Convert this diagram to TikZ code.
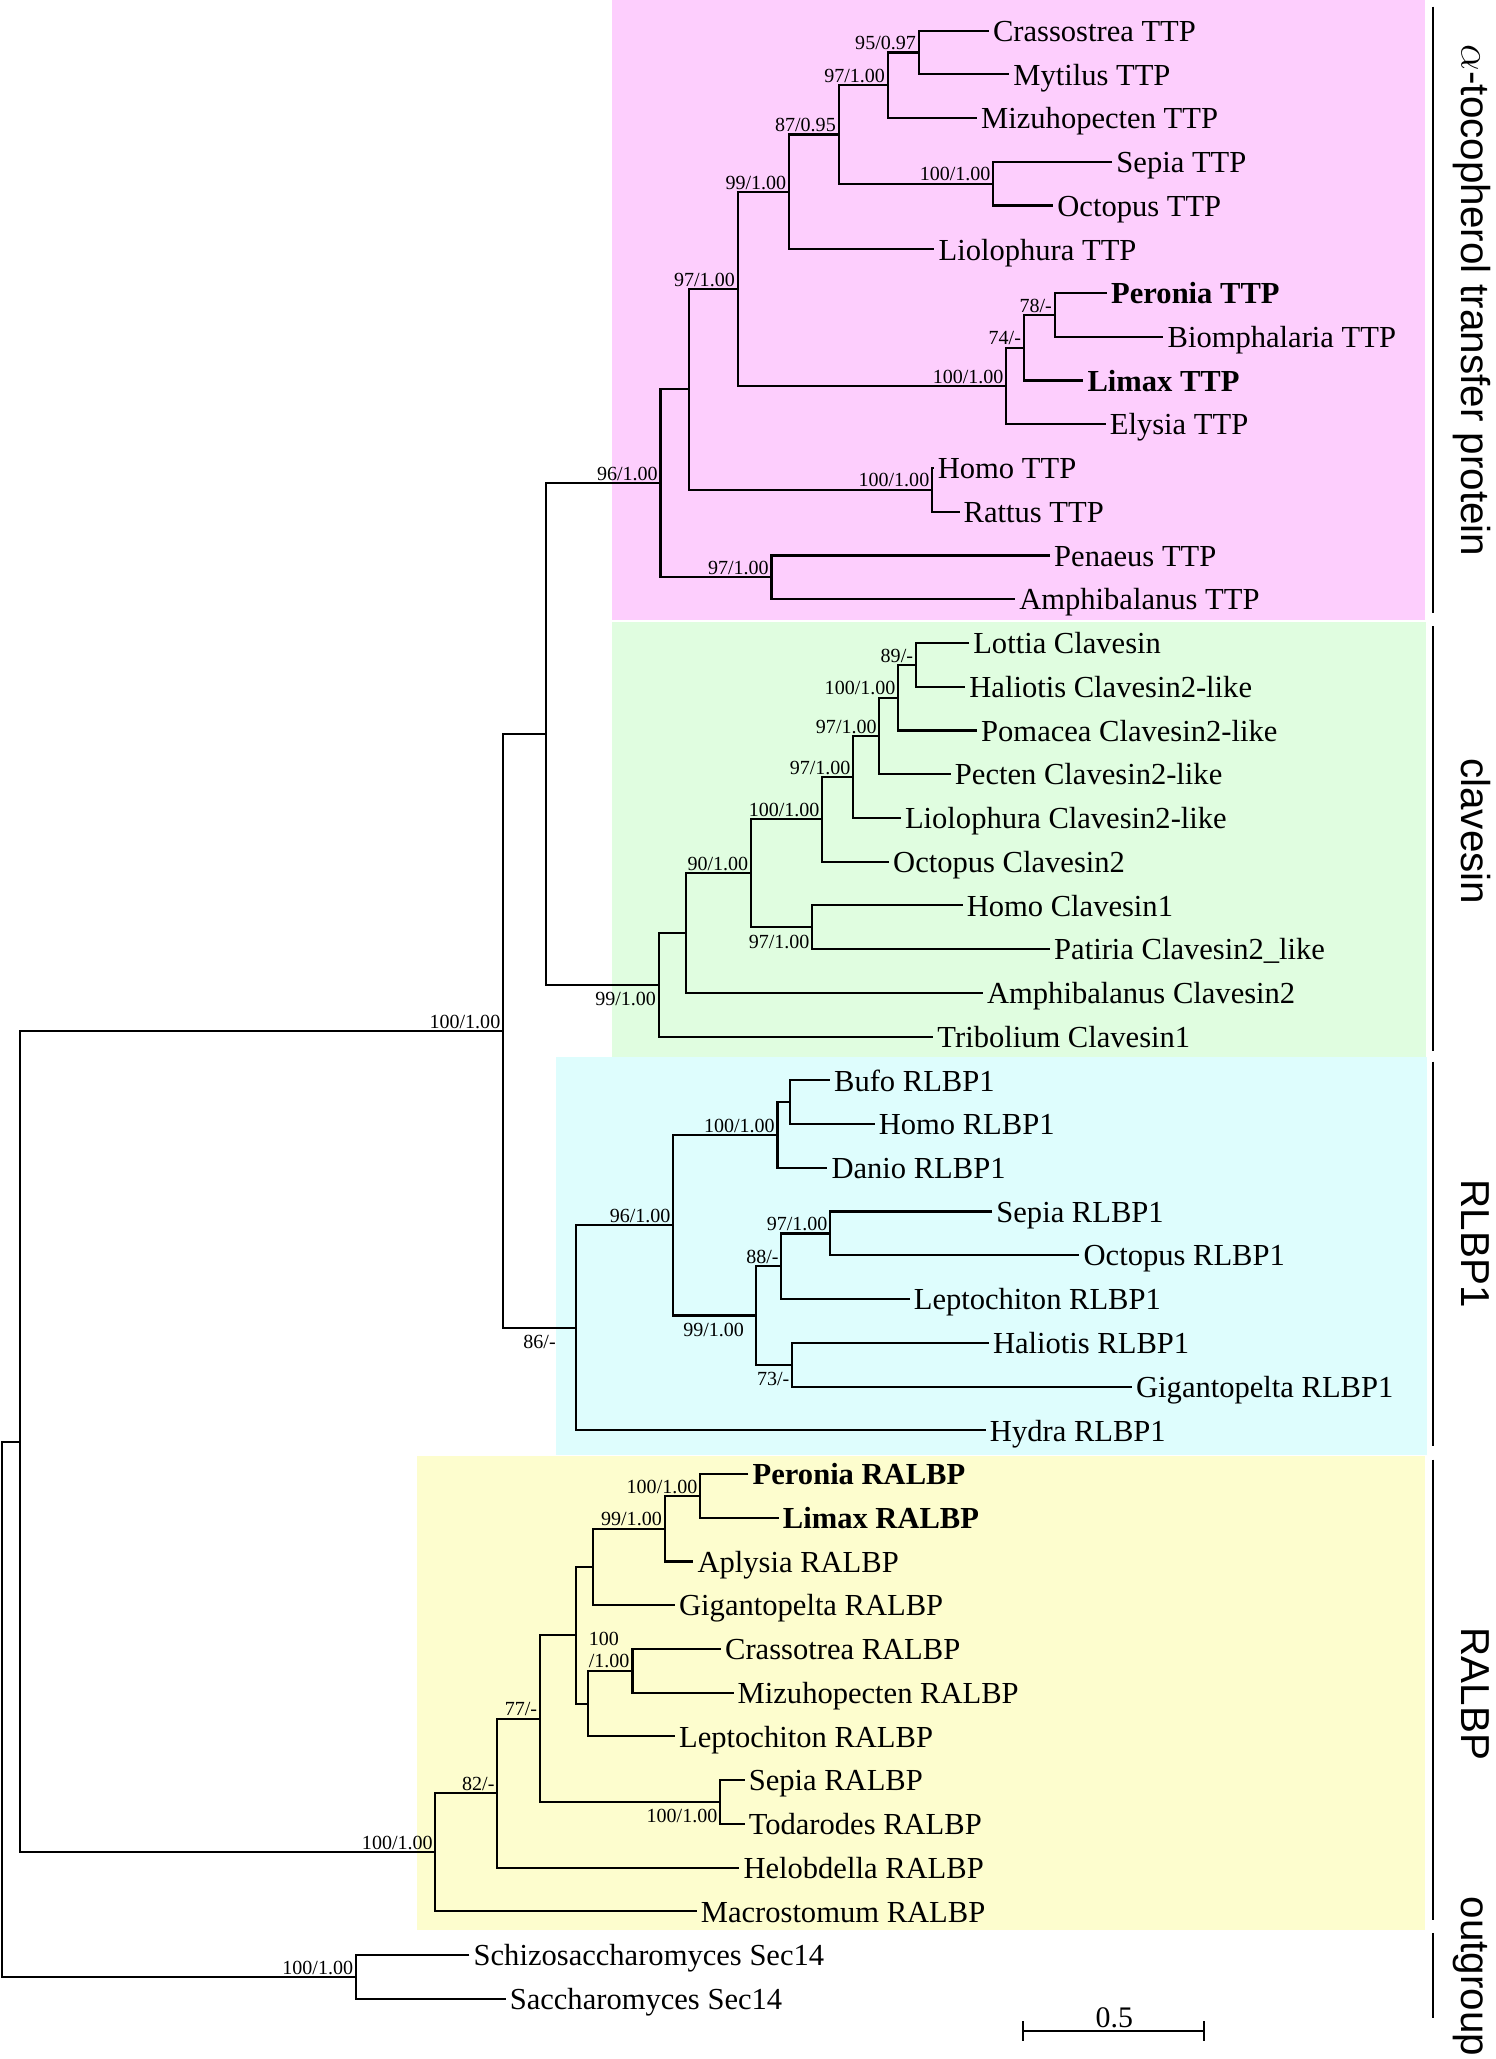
\documentclass[tikz,border=0pt]{standalone}
\usepackage{fontspec}
\setmainfont{Liberation Serif}
\newfontfamily\cladefont{Liberation Sans}
\usepackage{tikz}
\usetikzlibrary{positioning, calc}

\definecolor{ttpcol}{RGB}{253,206,253}
\definecolor{clavcol}{RGB}{224,253,224}
\definecolor{rlbpcol}{RGB}{222,253,253}
\definecolor{ralbpcol}{RGB}{253,253,206}

\begin{document}
\begin{tikzpicture}[x=0.013134cm, y=-0.013134cm,
    leaf/.style={anchor=west, inner xsep=1pt, inner ysep=0pt, text height=6.1pt, text depth=0pt, font=\fontsize{8.7}{10}\selectfont},
    bleaf/.style={leaf, font=\fontsize{8.7}{10}\selectfont\bfseries},
    supstyle/.style={inner sep=0.6pt, text height=4pt, text depth=0pt, font=\fontsize{5.7}{6.4}\selectfont},
    supabove/.style={supstyle, anchor=south east},
    supbelow/.style={supstyle, anchor=north east, yshift=-1.1pt},
    branch/.style={line width=0.6pt},
    bracket/.style={line width=0.5pt},
    cladename/.style={rotate=-90, anchor=base, inner sep=0pt, font=\cladefont\fontsize{11.5}{13}\selectfont}]

	\useasboundingbox (0,0) rectangle (1139,1568);

	\fill[ttpcol] (466,0) rectangle (1085.2,472);
	\fill[clavcol] (466,473.5) rectangle (1085.6,804.6);
	\fill[rlbpcol] (423.3,804.6) rectangle (1087,1107.8);
	\fill[ralbpcol] (317.5,1108.6) rectangle (1085,1470);

	\node[leaf] (crassT) at (753, 23.3) {Crassostrea TTP};
	\node[leaf] (mytilT) at (768.5, 56.6) {Mytilus TTP};
	\node[leaf] (mizuT) at (744, 89.9) {Mizuhopecten TTP};
	\node[leaf] (sepiaT) at (847, 123.2) {Sepia TTP};
	\node[leaf] (octoT) at (802, 156.5) {Octopus TTP};
	\node[leaf] (lioloT) at (711.6, 189.9) {Liolophura TTP};
	\node[bleaf] (peronT) at (843, 223.2) {Peronia TTP};
	\node[leaf] (biomT) at (886, 256.5) {Biomphalaria TTP};
	\node[bleaf] (limaxT) at (825, 289.8) {Limax TTP};
	\node[leaf] (elysT) at (842, 323.1) {Elysia TTP};
	\node[leaf] (homoT) at (711, 356.4) {Homo TTP};
	\node[leaf] (rattT) at (730.7, 389.7) {Rattus TTP};
	\node[leaf] (penT) at (799.6, 423.0) {Penaeus TTP};
	\node[leaf] (amphT) at (773, 456.3) {Amphibalanus TTP};

	\node[leaf] (lottC) at (738, 489.6) {Lottia Clavesin};
	\node[leaf] (haliC) at (735, 522.9) {Haliotis Clavesin2-like};
	\node[leaf] (pomaC) at (744, 556.3) {Pomacea Clavesin2-like};
	\node[leaf] (pectC) at (724, 589.6) {Pecten Clavesin2-like};
	\node[leaf] (lioloC) at (686, 622.9) {Liolophura Clavesin2-like};
	\node[leaf] (octoC) at (677, 656.2) {Octopus Clavesin2};
	\node[leaf] (homoC) at (733, 689.5) {Homo Clavesin1};
	\node[leaf] (patC) at (799.6, 722.8) {Patiria Clavesin2\_like};
	\node[leaf] (amphC) at (748.5, 756.1) {Amphibalanus Clavesin2};
	\node[leaf] (tribC) at (710.7, 789.4) {Tribolium Clavesin1};

	\node[leaf] (bufoR) at (632, 822.7) {Bufo RLBP1};
	\node[leaf] (homoR) at (666, 856.0) {Homo RLBP1};
	\node[leaf] (danioR) at (630, 889.3) {Danio RLBP1};
	\node[leaf] (sepiaR) at (755.6, 922.6) {Sepia RLBP1};
	\node[leaf] (octoR) at (822, 955.9) {Octopus RLBP1};
	\node[leaf] (leptR) at (692.7, 989.3) {Leptochiton RLBP1};
	\node[leaf] (haliR) at (753, 1022.6) {Haliotis RLBP1};
	\node[leaf] (gigaR) at (862, 1055.9) {Gigantopelta RLBP1};
	\node[leaf] (hydraR) at (750.7, 1089.2) {Hydra RLBP1};

	\node[bleaf] (peronA) at (570, 1122.5) {Peronia RALBP};
	\node[bleaf] (limaxA) at (593, 1155.8) {Limax RALBP};
	\node[leaf] (aplyA) at (528, 1189.1) {Aplysia RALBP};
	\node[leaf] (gigaA) at (514, 1222.4) {Gigantopelta RALBP};
	\node[leaf] (crassA) at (549, 1255.7) {Crassotrea RALBP};
	\node[leaf] (mizuA) at (558.6, 1289.0) {Mizuhopecten RALBP};
	\node[leaf] (leptA) at (514, 1322.3) {Leptochiton RALBP};
	\node[leaf] (sepiaA) at (567, 1355.6) {Sepia RALBP};
	\node[leaf] (todaA) at (567, 1389.0) {Todarodes RALBP};
	\node[leaf] (heloA) at (563, 1422.3) {Helobdella RALBP};
	\node[leaf] (macroA) at (530.5, 1455.6) {Macrostomum RALBP};

	\node[leaf] (schizo) at (357.5, 1488.9) {Schizosaccharomyces Sec14};
	\node[leaf] (sacch) at (385, 1522.2) {Saccharomyces Sec14};

	\coordinate (t1) at (699.6, 40.0);
	\coordinate (t2) at (676, 64.9);
	\coordinate (t3) at (756.4, 139.9);
	\coordinate (t4) at (638.6, 102.4);
	\coordinate (t5) at (600.8, 146.1);
	\coordinate (t6) at (803.2, 239.9);
	\coordinate (t7) at (779.6, 264.8);
	\coordinate (t8) at (766.3, 294.0);
	\coordinate (t9) at (561.7, 220.0);
	\coordinate (t10) at (709.8, 373.0);
	\coordinate (t11) at (524.8, 296.5);
	\coordinate (t12) at (587.5, 439.7);
	\coordinate (t13) at (503, 368.1);

	\coordinate (c1) at (697.4, 506.3);
	\coordinate (c2) at (684, 531.3);
	\coordinate (c3) at (669.7, 560.5);
	\coordinate (c4) at (649.8, 591.7);
	\coordinate (c5) at (626.2, 624.0);
	\coordinate (c6) at (618.6, 706.2);
	\coordinate (c7) at (571.9, 665.1);
	\coordinate (c8) at (522.5, 710.6);
	\coordinate (c9) at (501.7, 750.0);
	\coordinate (tc) at (416, 559.1);

	\coordinate (r1) at (601.8, 839.4);
	\coordinate (r2) at (592.1, 864.4);
	\coordinate (r3) at (632.3, 939.3);
	\coordinate (r4) at (595, 964.3);
	\coordinate (r5) at (603.2, 1039.3);
	\coordinate (r6) at (575.6, 1001.8);
	\coordinate (r7) at (512.7, 933.1);
	\coordinate (r8) at (438.7, 1011.2);
	\coordinate (tcr) at (383.1, 785.2);

	\coordinate (p1) at (533.2, 1139.2);
	\coordinate (p2) at (506.1, 1164.2);
	\coordinate (p3) at (451.9, 1193.3);
	\coordinate (p4) at (481.7, 1272.4);
	\coordinate (p5) at (447.6, 1297.4);
	\coordinate (p6) at (438.3, 1245.4);
	\coordinate (p7) at (548.4, 1372.3);
	\coordinate (p8) at (411.2, 1308.9);
	\coordinate (p9) at (378.7, 1365.6);
	\coordinate (p10) at (331.6, 1410.6);
	\coordinate (tcra) at (15, 1097.9);

	\coordinate (o1) at (271, 1505.6);
	\coordinate (root) at (1.5, 1301.8);

	\draw[branch] (crassT.west) -| (t1) |- (mytilT.west);
	\draw[branch] (t1) -| (t2) |- (mizuT.west);
	\draw[branch] (sepiaT.west) -| (t3) |- (octoT.west);
	\draw[branch] (t2) -| (t4) |- (t3);
	\draw[branch] (t4) -| (t5) |- (lioloT.west);
	\draw[branch] (peronT.west) -| (t6) |- (biomT.west);
	\draw[branch] (t6) -| (t7) |- (limaxT.west);
	\draw[branch] (t7) -| (t8) |- (elysT.west);
	\draw[branch] (t5) -| (t9) |- (t8);
	\draw[branch] (homoT.west) -| (t10) |- (rattT.west);
	\draw[branch] (t9) -| (t11) |- (t10);
	\draw[branch] (penT.west) -| (t12) |- (amphT.west);
	\draw[branch] (t11) -| (t13) |- (t12);

	\draw[branch] (lottC.west) -| (c1) |- (haliC.west);
	\draw[branch] (c1) -| (c2) |- (pomaC.west);
	\draw[branch] (c2) -| (c3) |- (pectC.west);
	\draw[branch] (c3) -| (c4) |- (lioloC.west);
	\draw[branch] (c4) -| (c5) |- (octoC.west);
	\draw[branch] (homoC.west) -| (c6) |- (patC.west);
	\draw[branch] (c5) -| (c7) |- (c6);
	\draw[branch] (c7) -| (c8) |- (amphC.west);
	\draw[branch] (c8) -| (c9) |- (tribC.west);
	\draw[branch] (t13) -| (tc) |- (c9);

	\draw[branch] (bufoR.west) -| (r1) |- (homoR.west);
	\draw[branch] (r1) -| (r2) |- (danioR.west);
	\draw[branch] (sepiaR.west) -| (r3) |- (octoR.west);
	\draw[branch] (r3) -| (r4) |- (leptR.west);
	\draw[branch] (haliR.west) -| (r5) |- (gigaR.west);
	\draw[branch] (r4) -| (r6) |- (r5);
	\draw[branch] (r2) -| (r7) |- (r6);
	\draw[branch] (r7) -| (r8) |- (hydraR.west);
	\draw[branch] (tc) -| (tcr) |- (r8);

	\draw[branch] (peronA.west) -| (p1) |- (limaxA.west);
	\draw[branch] (p1) -| (p2) |- (aplyA.west);
	\draw[branch] (p2) -| (p3) |- (gigaA.west);
	\draw[branch] (crassA.west) -| (p4) |- (mizuA.west);
	\draw[branch] (p4) -| (p5) |- (leptA.west);
	\draw[branch] (p3) -| (p6) |- (p5);
	\draw[branch] (sepiaA.west) -| (p7) |- (todaA.west);
	\draw[branch] (p6) -| (p8) |- (p7);
	\draw[branch] (p8) -| (p9) |- (heloA.west);
	\draw[branch] (p9) -| (p10) |- (macroA.west);
	\draw[branch] (tcr) -| (tcra) |- (p10);

	\draw[branch] (schizo.west) -| (o1) |- (sacch.west);
	\draw[branch] (tcra) -| (root) |- (o1);

	\node[supabove] (st1) at (t1) {95/0.97};
	\node[supabove] (st2) at (t2) {97/1.00};
	\node[supabove] (st3) at (t3) {100/1.00};
	\node[supabove] (st4) at (t4) {87/0.95};
	\node[supabove] (st5) at (t5) {99/1.00};
	\node[supabove] (st6) at (t6) {78/-};
	\node[supabove] (st7) at (t7) {74/-};
	\node[supabove] (st8) at (t8) {100/1.00};
	\node[supabove] (st9) at (t9) {97/1.00};
	\node[supabove] (st10) at (t10) {100/1.00};
	\node[supabove] (st12) at (t12) {97/1.00};
	\node[supabove] (st13) at (t13) {96/1.00};

	\node[supabove] (sc1) at (c1) {89/-};
	\node[supabove] (sc2) at (c2) {100/1.00};
	\node[supabove] (sc3) at (c3) {97/1.00};
	\node[supabove] (sc4) at (c4) {97/1.00};
	\node[supabove] (sc5) at (c5) {100/1.00};
	\node[supbelow] (sc6) at (c6) {97/1.00};
	\node[supabove] (sc7) at (c7) {90/1.00};
	\node[supbelow] (sc9) at (c9) {99/1.00};

	\node[supabove] (sr2) at (r2) {100/1.00};
	\node[supabove] (sr3) at (r3) {97/1.00};
	\node[supabove] (sr4) at (r4) {88/-};
	\node[supbelow] (sr5) at (r5) {73/-};
	\node[supbelow, xshift=-2.6pt] (sr6) at (r6) {99/1.00};
	\node[supabove] (sr7) at (r7) {96/1.00};
	\node[supbelow, xshift=-5pt] (sr8) at (r8) {86/-};
	\node[supabove] (stcr) at (tcr) {100/1.00};

	\node[supabove] (sp1) at (p1) {100/1.00};
	\node[supabove] (sp2) at (p2) {99/1.00};
	\node[inner sep=0.6pt, anchor=south west, align=left, xshift=-0.5pt, font=\fontsize{5.7}{6.4}\selectfont] (sp4) at (p5 |- p4) {100\\/1.00};
	\node[supbelow] (sp7) at (p7) {100/1.00};
	\node[supabove] (sp8) at (p8) {77/-};
	\node[supabove] (sp9) at (p9) {82/-};
	\node[supabove] (sp10) at (p10) {100/1.00};
	\node[supabove] (so1) at (o1) {100/1.00};

	\draw[bracket] (1091,5) -- (1091,467);
	\draw[bracket] (1091,477) -- (1091,800.7);
	\draw[bracket] (1091,808.4) -- (1091,1101.5);
	\draw[bracket] (1091,1111.6) -- (1091,1461.9);
	\draw[bracket] (1091,1472) -- (1091,1536.8);

	\node[cladename] (ttpname) at (1113,229) {$\alpha$-tocopherol transfer protein};
	\node[cladename] (clavname) at (1113,633) {clavesin};
	\node[cladename] (rlbpname) at (1113,947) {RLBP1};
	\node[cladename] (ralbpname) at (1113,1290) {RALBP};
	\node[cladename] (outname) at (1113,1505) {outgroup};

	\coordinate (sbl) at (778.8,1546.9);
	\coordinate (sbr) at (916.9,1546.9);
	\draw[branch] (sbl) -- (sbr);
	\draw[branch] (778.8,1539.3) -- (778.8,1554.5);
	\draw[branch] (916.9,1539.3) -- (916.9,1554.5);
	\node[anchor=base, inner sep=0pt, font=\fontsize{8.5}{10}\selectfont] (sblabel) at (848.6,1544) {0.5};
\end{tikzpicture}
\end{document}
